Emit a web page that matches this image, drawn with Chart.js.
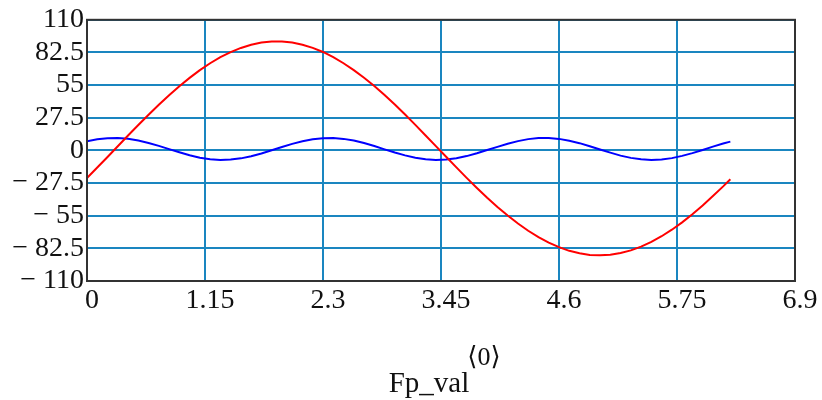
<!DOCTYPE html>
<html>
<head>
<meta charset="utf-8">
<script src="https://cdn.jsdelivr.net/npm/chart.js@4"></script>
<style>
html,body{margin:0;padding:0;background:#fff;}
#wrap{width:822px;height:400px;}
</style>
</head>
<body>
<div id="wrap"><canvas id="c" width="822" height="400"></canvas></div>
<script>
const xValues = [0,0.1,0.2,0.3,0.4,0.5,0.6,0.7,0.8,0.9,1.0,1.1,1.2,1.3,1.4,1.5,1.6,1.7,1.8,1.9,2.0,2.1,2.2,2.3,2.4,2.5,2.6,2.7,2.8,2.9,3.0,3.1,3.2,3.3,3.4,3.5,3.6,3.7,3.8,3.9,4.0,4.1,4.2,4.3,4.4,4.5,4.6,4.7,4.8,4.9,5.0,5.1,5.2,5.3,5.4,5.5,5.6,5.7,5.8,5.9,6.0,6.1,6.2,6.27];
const redValues = [-23.2,-14.4,-5.5,3.5,12.5,21.4,30.0,38.4,46.5,54.0,61.1,67.6,73.4,78.5,82.8,86.3,89.0,90.8,91.7,91.7,90.8,89.0,86.4,82.9,78.5,73.4,67.6,61.2,54.2,46.6,38.6,30.2,21.5,12.6,3.6,-5.4,-14.3,-23.1,-31.6,-39.8,-47.6,-54.8,-61.6,-67.7,-73.1,-77.7,-81.5,-84.6,-86.7,-88.0,-88.4,-87.9,-86.4,-84.2,-81.0,-77.0,-72.3,-66.8,-60.6,-53.8,-46.4,-38.5,-30.3,-24.3];
const blueValues = [7.6,9.3,10.3,10.5,9.8,8.4,6.3,3.8,1.1,-1.6,-4.1,-6.1,-7.4,-8.0,-7.7,-6.7,-4.9,-2.6,0.1,2.9,5.5,7.7,9.4,10.3,10.4,9.7,8.3,6.2,3.7,0.9,-1.8,-4.2,-6.2,-7.5,-8.0,-7.7,-6.6,-4.8,-2.4,0.3,3.0,5.6,7.8,9.5,10.4,10.4,9.7,8.2,6.1,3.5,0.8,-1.9,-4.4,-6.3,-7.5,-8.0,-7.6,-6.5,-4.6,-2.3,0.4,3.2,5.8,7.4];
const xTicks = [0,1.15,2.3,3.45,4.6,5.75,6.9];
const xTickLabels = ["0","1.15","2.3","3.45","4.6","5.75","6.9"];
const yTicks = [-110,-82.5,-55,-27.5,0,27.5,55,82.5,110];
const yTickLabels = ["\u2212 110","\u2212 82.5","\u2212 55","\u2212 27.5","0","27.5","55","82.5","110"];
const axisTitle = "Fp_val";
const axisTitleSup = "\u27E80\u27E9";

const FONT = "'Liberation Serif', 'DejaVu Serif', serif";
const GRID = '#1a86c0';

const toPts = (ys) => xValues.map((x, i) => ({x: x, y: ys[i]}));

const framePlugin = {
  id: 'frame',
  afterDatasetsDraw(chart) {
    const {ctx, chartArea: a} = chart;
    ctx.save();
    ctx.strokeStyle = '#333';
    ctx.lineWidth = 2;
    ctx.strokeRect(a.left, a.top, a.right - a.left, a.bottom - a.top);
    ctx.restore();
  },
  afterDraw(chart) {
    const ctx = chart.ctx;
    ctx.save();
    ctx.fillStyle = '#111';
    ctx.textAlign = 'center';
    ctx.textBaseline = 'alphabetic';
    ctx.font = "29px " + FONT;
    ctx.fillText(axisTitle, 429, 392);
    ctx.font = "26px " + FONT;
    ctx.fillText(axisTitleSup, 484, 365);
    ctx.restore();
  }
};

new Chart(document.getElementById('c'), {
  type: 'scatter',
  data: {
    datasets: [
      {data: toPts(redValues), showLine: true, borderColor: '#ff0000', borderWidth: 2, pointRadius: 0, tension: 0},
      {data: toPts(blueValues), showLine: true, borderColor: '#0000ff', borderWidth: 2, pointRadius: 0, tension: 0}
    ]
  },
  options: {
    responsive: false,
    animation: false,
    events: [],
    layout: {padding: {left: 0, top: 19, right: 27, bottom: 0}},
    plugins: {legend: {display: false}, tooltip: {enabled: false}, title: {display: false}},
    scales: {
      x: {
        type: 'linear',
        min: 0, max: 6.9,
        afterBuildTicks(scale) { scale.ticks = xTicks.map(v => ({value: v})); },
        afterFit(scale) { scale.height = 119; },
        grid: {color: GRID, lineWidth: 2, drawTicks: false},
        border: {display: false},
        ticks: {
          color: '#111',
          font: {family: FONT, size: 28},
          padding: 3,
          labelOffset: 5,
          maxRotation: 0,
          autoSkip: false,
          callback(v, i) { return xTickLabels[xTicks.indexOf(v)] ?? ''; }
        }
      },
      y: {
        type: 'linear',
        min: -110, max: 110,
        afterBuildTicks(scale) { scale.ticks = yTicks.map(v => ({value: v})); },
        afterFit(scale) { scale.width = 87; },
        grid: {color: GRID, lineWidth: 2, drawTicks: false},
        border: {display: false},
        ticks: {
          color: '#111',
          font: {family: FONT, size: 28},
          padding: 3,
          autoSkip: false,
          callback(v) { return yTickLabels[yTicks.indexOf(v)] ?? ''; }
        }
      }
    }
  },
  plugins: [framePlugin]
});
</script>
</body>
</html>
